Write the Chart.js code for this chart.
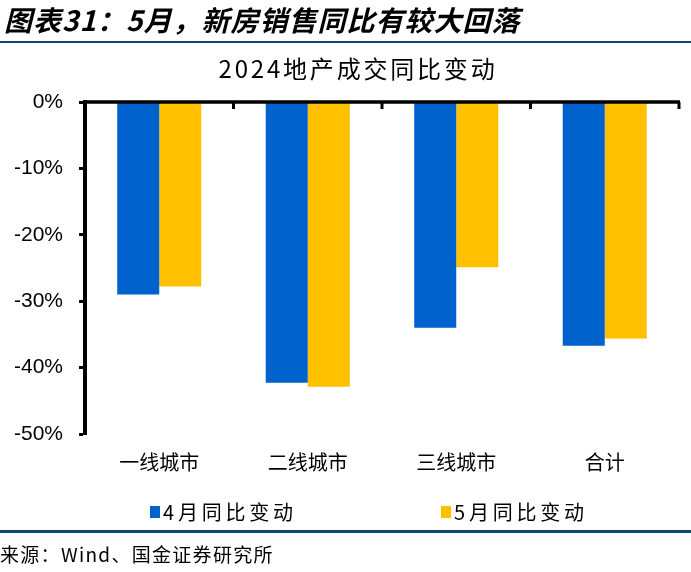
<!DOCTYPE html>
<html><head><meta charset="utf-8">
<script src="https://cdn.jsdelivr.net/npm/chart.js@4"></script>
<style>
html,body{margin:0;padding:0;background:#fff;}
#wrap{position:relative;width:691px;height:572px;overflow:hidden;}
#hdr{position:absolute;left:4px;top:1px;font-family:"Noto Sans CJK SC";font-weight:bold;font-style:italic;font-size:28px;line-height:36px;letter-spacing:1px;color:#000;white-space:nowrap;}
#rule1{position:absolute;left:0;top:41px;width:691px;height:2px;background:#0d4a6b;}
#rule2{position:absolute;left:0;top:530px;width:691px;height:3px;background:#0d4a6b;}
#src{position:absolute;left:0;top:541px;font-family:"Noto Sans CJK SC";font-size:19px;line-height:26px;letter-spacing:1.3px;color:#000;white-space:nowrap;}
#ctitle{position:absolute;left:0;width:716px;top:52px;text-align:center;font-family:"Noto Sans CJK SC";font-size:24px;line-height:32px;letter-spacing:2.8px;color:#000;white-space:nowrap;}
.lg{position:absolute;top:498px;height:28px;font-family:"Noto Sans CJK SC";font-size:20px;line-height:28px;letter-spacing:3.8px;color:#000;white-space:nowrap;}
.lg i{position:absolute;left:0;top:8px;width:10px;height:12px;}
.lg span{position:absolute;left:13px;top:0;}
canvas{position:absolute;left:0;top:0;}
</style></head>
<body><div id="wrap">
<canvas id="c" width="691" height="572"></canvas>
<div id="hdr">图表31：5月，新房销售同比有较大回落</div>
<div id="rule1"></div>
<div id="ctitle"></div>
<div id="legend"></div>
<div id="rule2"></div>
<div id="src">来源：Wind、国金证券研究所</div>
</div>
<script>
const categories = ["一线城市", "二线城市", "三线城市", "合计"];
const aprilValues = [-29.0, -42.3, -34.0, -36.7];
const mayValues = [-27.8, -42.9, -24.9, -35.6];
const seriesNames = ["4月同比变动", "5月同比变动"];
const seriesColors = ["#0062CC", "#FFC000"];
const chartTitle = "2024地产成交同比变动";
const yTickValues = [0, -10, -20, -30, -40, -50];

const FONT = '"Noto Sans CJK SC", sans-serif';

document.getElementById('ctitle').textContent = chartTitle;
const legendLefts = [150, 441];
const lgEl = document.getElementById('legend');
seriesNames.forEach((n, i) => {
  const d = document.createElement('div');
  d.className = 'lg';
  d.style.left = legendLefts[i] + 'px';
  const b = document.createElement('i'); b.style.background = seriesColors[i];
  const s = document.createElement('span'); s.textContent = n;
  d.appendChild(b); d.appendChild(s); lgEl.appendChild(d);
});

const topTicks = {
  id: 'topTicks',
  afterDatasetsDraw(chart) {
    const xs = chart.scales.x, ys = chart.scales.y, ctx = chart.ctx;
    const y0 = ys.getPixelForValue(0);
    ctx.save();
    ctx.strokeStyle = '#000';
    ctx.lineWidth = 3.5;
    ctx.beginPath();
    ctx.moveTo(xs.left, y0); ctx.lineTo(xs.right + 1, y0);
    ctx.stroke();
    ctx.lineWidth = 3;
    for (let i = 1; i <= categories.length; i++) {
      const x = xs.getPixelForValue(i - 0.5);
      ctx.beginPath();
      ctx.moveTo(x, y0); ctx.lineTo(x, y0 + 7);
      ctx.stroke();
    }
    ctx.restore();
  }
};

new Chart(document.getElementById('c'), {
  type: 'bar',
  data: {
    labels: categories,
    datasets: [
      {label: seriesNames[0], data: aprilValues, backgroundColor: seriesColors[0], borderWidth: 0},
      {label: seriesNames[1], data: mayValues, backgroundColor: seriesColors[1], borderWidth: 0}
    ]
  },
  options: {
    responsive: false,
    animation: false,
    layout: {padding: {top: 102, right: 12, bottom: 82, left: 0}},
    datasets: {bar: {categoryPercentage: 0.566, barPercentage: 1.0}},
    plugins: {
      title: {display: false},
      legend: {display: false},
      tooltip: {enabled: false}
    },
    scales: {
      x: {
        grid: {display: false, drawTicks: false},
        border: {display: false},
        ticks: {color: '#000', font: {family: FONT, size: 20}, padding: 16}
      },
      y: {
        min: -50, max: 0,
        afterFit(s) { s.width = 85; },
        afterBuildTicks(s) { s.ticks = yTickValues.map(v => ({value: v})); },
        grid: {drawOnChartArea: false, drawTicks: true, tickLength: 6, tickColor: '#000', tickWidth: 3},
        border: {display: true, color: '#000', width: 4},
        ticks: {color: '#000', font: {family: '"Liberation Sans", Arial, sans-serif', size: 21},
          padding: 16, callback: v => v + '%'}
      }
    }
  },
  plugins: [topTicks]
});
</script>
</body></html>
